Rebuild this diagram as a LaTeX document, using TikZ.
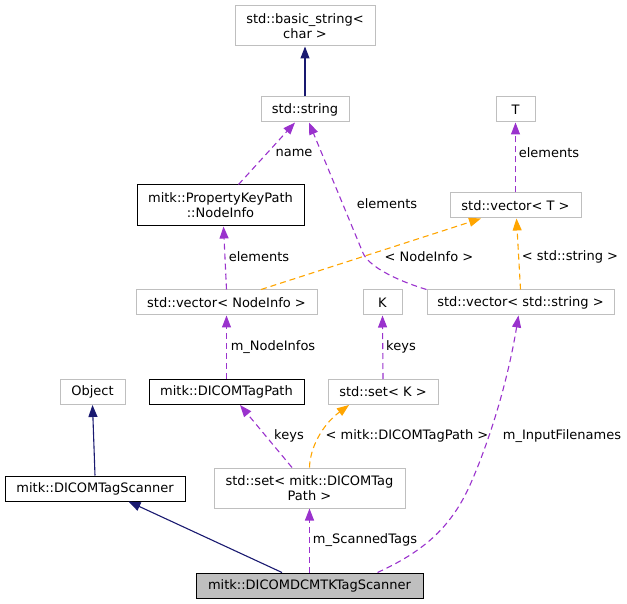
\documentclass[tikz,border=0pt]{standalone}
\usepackage{fontspec}
\setmainfont{DejaVu Sans}
\usetikzlibrary{arrows.meta}

\definecolor{boxgray}{HTML}{BFBFBF}
\definecolor{usepurple}{HTML}{9A32CD}
\definecolor{tmplorange}{HTML}{FFA500}
\definecolor{inhnavy}{HTML}{191970}

\tikzset{
  cls/.style={draw=boxgray, line width=1pt, inner sep=0pt, align=center},
  clsdoc/.style={cls, draw=black},
  clscur/.style={cls, draw=black, fill=boxgray},
  usage/.style={->, usepurple, line width=1.1pt, dash pattern=on 6pt off 4pt},
  tmpl/.style={->, tmplorange, line width=1.1pt, dash pattern=on 6pt off 4pt},
  inherit/.style={->, inhnavy, line width=1.1pt},
  lbl/.style={inner sep=0pt, anchor=center}
}

\begin{document}
\begin{tikzpicture}[x=1pt, y=-1pt, >={Triangle[length=12pt,width=9pt]},
    font=\fontsize{13}{15}\selectfont]
    \useasboundingbox (0,0) rectangle (627,604);

    % Klassen
    \node[cls, minimum width=140pt, minimum height=40pt] (bstr) at (305,26) {std::basic\_string<\\char >};
    \node[cls, minimum width=88pt, minimum height=25pt] (str) at (305,109.5) {std::string};
    \node[cls, minimum width=39pt, minimum height=25pt] (T) at (515.5,109.5) {T};
    \node[clsdoc, minimum width=167pt, minimum height=41pt] (ninfo) at (220.5,205.5) {mitk::PropertyKeyPath\\::NodeInfo};
    \node[cls, minimum width=131pt, minimum height=25pt] (vecT) at (515.5,205.5) {std::vector< T >};
    \node[cls, minimum width=181pt, minimum height=25pt] (vecNI) at (226.5,302.5) {std::vector< NodeInfo >};
    \node[cls, minimum width=39pt, minimum height=25pt] (K) at (382.5,302.5) {K};
    \node[cls, minimum width=187pt, minimum height=25pt] (vecS) at (520.5,302.5) {std::vector< std::string >};
    \node[cls, minimum width=65pt, minimum height=25pt] (obj) at (92.5,392) {Object};
    \node[clsdoc, minimum width=155pt, minimum height=25pt] (tagpath) at (226.5,392) {mitk::DICOMTagPath};
    \node[cls, minimum width=110pt, minimum height=25pt] (setK) at (383,392) {std::set< K >};
    \node[clsdoc, minimum width=180pt, minimum height=25pt] (scanner) at (95,488.5) {mitk::DICOMTagScanner};
    \node[cls, minimum width=191pt, minimum height=40pt] (setTP) at (309.5,488) {std::set< mitk::DICOMTag\\Path >};
    \node[clscur, minimum width=227pt, minimum height=25pt] (dcmtk) at (309.5,585.5) {mitk::DICOMDCMTKTagScanner};

    % Vererbung
    \draw[inherit] (str) -- (bstr);
    \draw[inherit] (scanner.north) -- (obj.south);
    \draw[inherit] ([xshift=-27.5pt]dcmtk.north) -- ([xshift=33.5pt]scanner.south);

    % Benutzung
    \draw[usage] ([xshift=18pt]ninfo.north) -- ([xshift=-10pt]str.south);
    \draw[usage] (vecS.north west) .. controls (392,279) and (368,265) .. (363,253) -- ([xshift=4pt]str.south);
    \draw[usage] (vecT) -- (T);
    \draw[usage] (vecNI.north) -- ([xshift=3pt]ninfo.south);
    \draw[usage] (tagpath) -- (vecNI);
    \draw[usage] (setK.north) -- (K.south);
    \draw[usage] ([xshift=-17.5pt]setTP.north) -- ([xshift=13.5pt]tagpath.south);
    \draw[usage] (dcmtk) -- (setTP);
    \draw[usage] ([xshift=68pt]dcmtk.north) .. controls (420,553) and (450,530) .. (470,485)
        .. controls (490,440) and (508,380) .. ([xshift=-2pt]vecS.south);

    % Templates
    \draw[tmpl] ([xshift=34.5pt]vecNI.north) -- ([xshift=-34.5pt]vecT.south);
    \draw[tmpl] (vecS.north) -- ([xshift=1pt]vecT.south);
    \draw[tmpl] (setTP.north) .. controls (310,448) and (322,425) .. ([xshift=-34pt]setK.south);

    % Beschriftungen
    \node[lbl] (lname) at (294,153) {name};
    \node[lbl] (lelS) at (387,204) {elements};
    \node[lbl] (lelT) at (549,153) {elements};
    \node[lbl] (lelNI) at (259,257) {elements};
    \node[lbl] (lNI) at (429,257) {< NodeInfo >};
    \node[lbl] (lstr) at (570,257) {< std::string >};
    \node[lbl] (lNodeInfos) at (273,347) {m\_NodeInfos};
    \node[lbl] (lkeysK) at (401,347) {keys};
    \node[lbl] (lkeysTP) at (289,436) {keys};
    \node[lbl] (lTP) at (407,436) {< mitk::DICOMTagPath >};
    \node[lbl] (lfiles) at (562,436) {m\_InputFilenames};
    \node[lbl] (ltags) at (365,540) {m\_ScannedTags};
\end{tikzpicture}
\end{document}
